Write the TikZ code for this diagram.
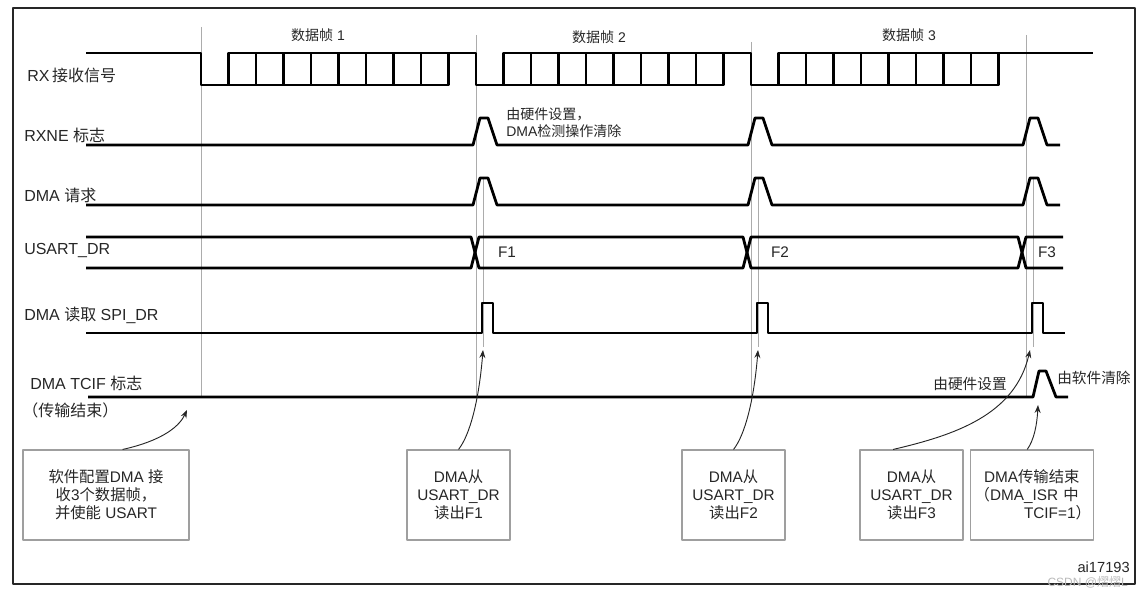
\documentclass[tikz,border=0pt]{standalone}
\usepackage{fontspec}
\setmainfont{Liberation Sans}
\newfontfamily\cjk{Noto Sans CJK SC}
\newcommand{\zhs}[1]{{\cjk #1}}
\usetikzlibrary{arrows.meta}
\definecolor{ink}{gray}{0.15}
\tikzset{
  sig/.style={line width=2.1pt},
  guide/.style={gray!65, line width=0.6pt},
  lbl/.style={anchor=west, inner sep=0pt, text=ink, font=\fontsize{12}{14}\selectfont},
  note/.style={inner sep=0pt, text=ink, font=\fontsize{10.5}{13}\selectfont},
  box/.style={draw=gray!75, line width=0.8pt, align=center, text=ink,
    minimum height=67.5pt, font=\fontsize{11.5}{13.5}\selectfont},
  callout/.style={->, line width=0.7pt, black!85},
}
\begin{document}
\begin{tikzpicture}[>={Stealth[length=6pt,width=4.5pt]}, line join=round, x=0.75pt, y=-0.75pt]
	\def\tb{27.5}
	\useasboundingbox (0,0) rectangle (1142,598);
	\draw[gray!30!black, line width=1.2pt] (13,8) rectangle (1135,584);
	% guide lines
	\foreach \t/\y in {201/27,476/35,751/42,1026/35} \draw[guide] (\t,\y) -- (\t,397);
	\foreach \t in {476,751,1026} \draw[guide] ({\t+7},177) -- ({\t+7},347);
	% RX
	\draw[sig] (86,53) -| (201,85) -- (228.5,85);
	\draw[sig] (448.5,53) -| (476,85) -- (503.5,85);
	\draw[sig] (723.5,53) -| (751,85) -- (778.5,85);
	\draw[sig] (998.5,53) -- (1093,53);
	\foreach \s in {201,476,751}{
		\draw[sig] ({\s+\tb},53) rectangle ({\s+9*\tb},85);
		\foreach \k in {2,...,8} \draw[sig] ({\s+\k*\tb},53) -- ({\s+\k*\tb},85);
	}
	% RXNE, DMA request
	\foreach \yb/\yt in {145/118,205/178}
		\draw[sig] (86,\yb) \foreach \t in {476,751,1026}{ -- ({\t-3},\yb) -- ({\t+4},\yt) -- ({\t+12},\yt) -- ({\t+21},\yb)} -- (1060,\yb);
	% USART_DR
	\draw[sig] (86,237) -- (471,237) -- (479,268) -- (743,268) -- (751,237) -- (1018,237) -- (1026,268) -- (1063,268);
	\draw[sig] (86,268) -- (471,268) -- (479,237) -- (743,237) -- (751,268) -- (1018,268) -- (1026,237) -- (1063,237);
	% DMA read
	\draw[sig] (86,333) \foreach \t in {476,751,1026}{ -| ({\t+6},303) -| ({\t+17},333)} -- (1065,333);
	% TCIF
	\draw[sig] (88,397) -- (1033,397) -- (1039,371) -- (1046,371) -- (1056,397) -- (1068,397);

	\node[lbl] (rx) at (27,75) {RX\,\zhs{接收信号}};
	\node[lbl] (rxne) at (24,135) {RXNE \zhs{标志}};
	\node[lbl] (req) at (24,195) {DMA \zhs{请求}};
	\node[lbl] (dr) at (24,251) {USART\_DR};
	\node[lbl] (rd) at (24,315) {DMA \zhs{读取} SPI\_DR};
	\node[lbl] (tcif) at (30,383) {DMA TCIF \zhs{标志}};
	\node[lbl] (tcend) at (22,410) {\zhs{（传输结束）}};

	\node[note] (fr1) at (318,35) {\zhs{数据帧} 1};
	\node[note] (fr2) at (599,37) {\zhs{数据帧} 2};
	\node[note] (fr3) at (909,35) {\zhs{数据帧} 3};
	\node[note, anchor=north west, align=left] (hwset) at (506,107) {\zhs{由硬件设置，}\\DMA\zhs{检测操作清除}};
	\node[note, anchor=east, font=\fontsize{11}{13}\selectfont] (hw) at (1007,384) {\zhs{由硬件设置}};
	\node[note, anchor=west, font=\fontsize{11}{13}\selectfont] (sw) at (1057,378) {\zhs{由软件清除}};
	\foreach \t/\f in {507/1,780/2,1047/3} \node[note, font=\fontsize{11.5}{13}\selectfont] (f\f) at (\t,252) {F\f};

	\node[box, minimum width=124.5pt] (cfgbox) at (106,495) {\zhs{软件配置}DMA \zhs{接}\\\zhs{收}3\zhs{个数据帧，}\\\zhs{并使能} USART};
	\node[box, minimum width=77.25pt] (rdbox1) at (458.5,495) {DMA\zhs{从}\\USART\_DR\\\zhs{读出}F1};
	\node[box, minimum width=77.25pt] (rdbox2) at (733.5,495) {DMA\zhs{从}\\USART\_DR\\\zhs{读出}F2};
	\node[box, minimum width=77.25pt] (rdbox3) at (911.5,495) {DMA\zhs{从}\\USART\_DR\\\zhs{读出}F3};
	\node[box, text width=86pt, align=left] (endbox) at (1032,495) {\hspace*{7pt}DMA\zhs{传输结束}\\\zhs{（}DMA\_ISR \zhs{中}\\\hspace*{37pt}TCIF=1\zhs{）}};

	\coordinate (cfg) at (187,410);
	\coordinate (rd1) at (483,350);
	\coordinate (rd2) at (758,350);
	\coordinate (rd3) at (1030,350);
	\coordinate (tc) at (1038,405);
	\draw[callout] (cfgbox.70) .. controls (165,440) and (180,425) .. (cfg);
	\draw[callout] (rdbox1.north) .. controls (470,435) and (479,400) .. (rd1);
	\draw[callout] (rdbox2.north) .. controls (745,435) and (754,400) .. (rd2);
	\draw[callout] (rdbox3.112) .. controls (955,435) and (1015,415) .. (rd3);
	\draw[callout] (endbox.96) .. controls (1034,440) and (1037,425) .. (tc);

	\node[anchor=east, inner sep=0pt, text=ink, font=\fontsize{11}{13}\selectfont] (id) at (1130,567) {ai17193};
	\node[anchor=east, inner sep=0pt, text=gray!55, font=\fontsize{9}{11}\selectfont] (wm) at (1128,582) {CSDN @\zhs{熠熠}L};
\end{tikzpicture}
\end{document}
